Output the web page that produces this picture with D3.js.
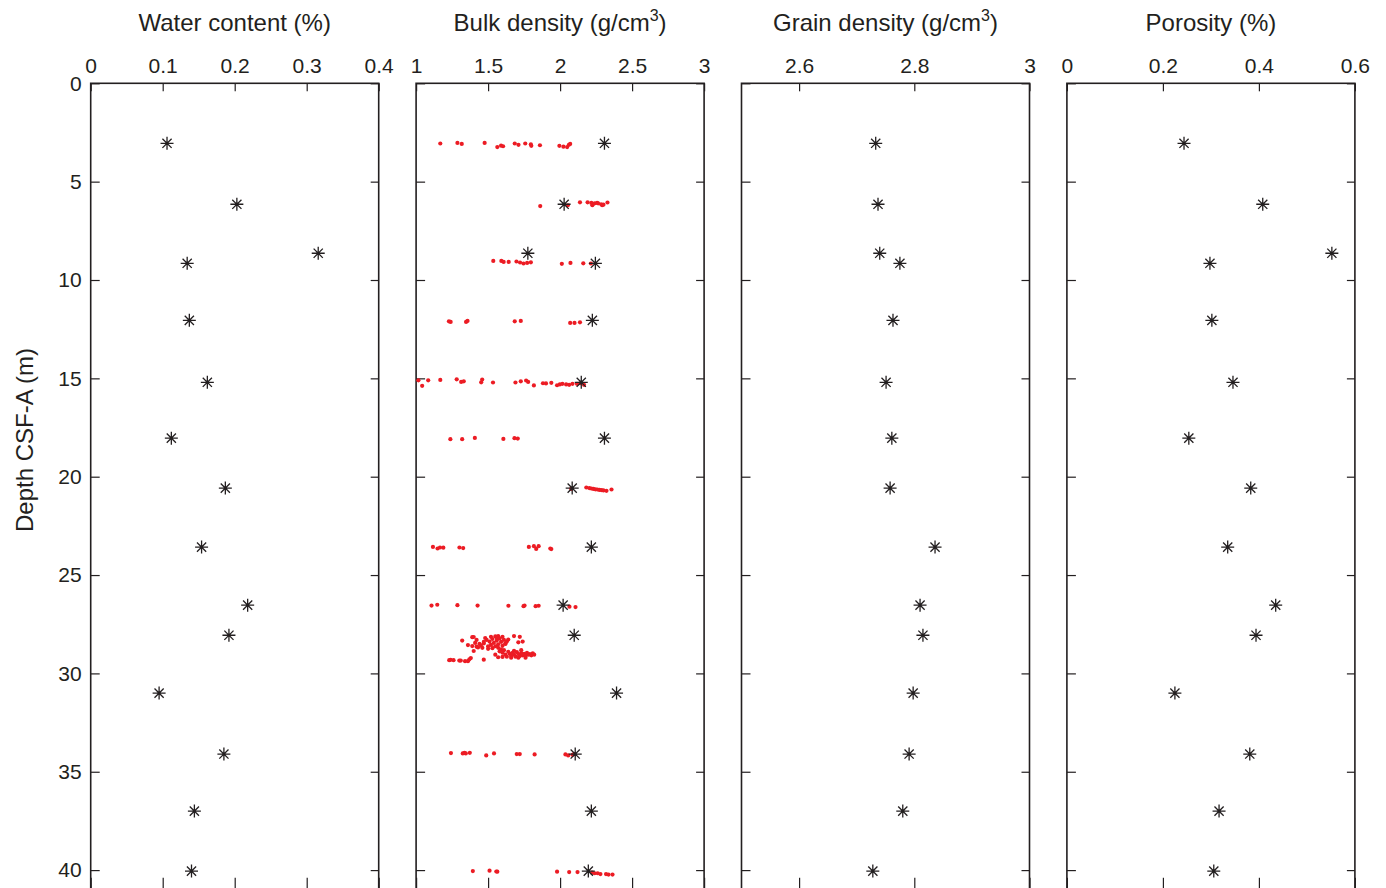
<!DOCTYPE html>
<html>
<head>
<meta charset="utf-8">
<script src="https://cdn.jsdelivr.net/npm/d3@7"></script>
<style>
  html, body { margin: 0; padding: 0; background: #fff; }
  svg { display: block; font-family: "Liberation Sans", Arial, Helvetica, sans-serif; }
</style>
</head>
<body>
<svg id="chart" width="1386" height="888"></svg>
<script>
// ---------------- DATA ----------------
const sampleDepths = [3.05, 6.15, 8.64, 9.15, 12.05, 15.2, 18.04, 20.58, 23.58, 26.53, 28.06, 31.0, 34.1, 37.0, 40.05];
const waterContent = [0.106, 0.203, 0.316, 0.134, 0.137, 0.162, 0.112, 0.187, 0.154, 0.218, 0.192, 0.095, 0.185, 0.144, 0.140];
const bulkDensity  = [2.308, 2.028, 1.776, 2.245, 2.224, 2.147, 2.308, 2.084, 2.217, 2.021, 2.098, 2.392, 2.105, 2.217, 2.196];
const grainDensity = [2.733, 2.737, 2.740, 2.775, 2.763, 2.751, 2.761, 2.758, 2.836, 2.810, 2.815, 2.798, 2.791, 2.780, 2.728];
const porosity     = [0.244, 0.408, 0.552, 0.298, 0.302, 0.346, 0.254, 0.383, 0.335, 0.435, 0.394, 0.225, 0.381, 0.317, 0.306];

// continuous (track) bulk density: [depth, density]
const trackDensity = [
  [3.06,1.168],[3.03,1.287],[3.08,1.317],[3.03,1.476],[3.24,1.564],[3.17,1.590],[3.20,1.604],[3.06,1.685],[3.13,1.711],[3.06,1.758],[3.10,1.797],[3.18,1.800],[3.15,1.860],[3.18,1.995],[3.22,2.023],[3.24,2.049],[3.13,2.061],[3.08,2.070],
  [6.24,1.862],[6.20,2.054],[6.05,2.138],[6.05,2.191],[6.08,2.217],[6.20,2.224],[6.10,2.240],[6.08,2.257],[6.10,2.264],[6.15,2.285],[6.20,2.292],[6.17,2.301],[6.06,2.329],
  [9.03,1.536],[9.03,1.592],[9.08,1.608],[9.08,1.643],[9.06,1.697],[9.11,1.722],[9.16,1.746],[9.13,1.771],[9.10,1.797],[9.18,2.012],[9.13,2.072],[9.15,2.161],[9.16,2.214],
  [12.10,1.228],[12.13,1.240],[12.13,1.347],[12.08,1.357],[12.10,1.685],[12.08,1.727],[12.18,2.070],[12.18,2.100],[12.15,2.138],
  [15.10,1.016],[15.38,1.042],[15.10,1.084],[15.08,1.168],[15.05,1.282],[15.18,1.313],[15.15,1.331],[15.20,1.452],[15.06,1.459],[15.21,1.534],[15.21,1.690],[15.15,1.727],[15.11,1.764],[15.18,1.778],[15.36,1.818],[15.25,1.881],[15.26,1.902],[15.23,1.939],[15.35,1.979],[15.31,1.998],[15.28,2.016],[15.31,2.042],[15.33,2.063],[15.28,2.086],[15.28,2.117],[15.25,2.140],[15.33,2.166],
  [18.09,1.238],[18.09,1.320],[18.03,1.408],[18.08,1.606],[18.04,1.683],[18.06,1.706],
  [20.62,2.077],[20.55,2.182],[20.58,2.203],[20.60,2.217],[20.62,2.231],[20.64,2.245],[20.65,2.259],[20.67,2.273],[20.68,2.287],[20.70,2.301],[20.72,2.322],[20.65,2.357],
  [23.57,1.117],[23.65,1.149],[23.60,1.166],[23.61,1.189],[23.60,1.301],[23.63,1.327],[23.57,1.783],[23.53,1.818],[23.67,1.834],[23.53,1.851],[23.65,1.932],[23.68,1.939],
  [26.55,1.107],[26.51,1.147],[26.53,1.287],[26.55,1.427],[26.56,1.641],[26.58,1.746],[26.55,1.753],[26.58,1.830],[26.56,1.851],[26.61,2.065],[26.63,2.107],
  [28.33,1.32],[28.16,1.39],[28.15,1.40],[28.30,1.42],[28.56,1.36],[28.61,1.39],[28.86,1.40],[28.64,1.42],[28.50,1.44],[28.48,1.47],[28.75,1.50],[28.14,1.52],[28.12,1.55],[28.10,1.57],[28.14,1.60],[28.28,1.64],[28.10,1.68],[28.14,1.72],[28.38,1.74],[28.42,1.71],[28.48,1.62],
  [28.30,1.49],[28.38,1.51],[28.25,1.53],[28.45,1.54],[28.33,1.56],[28.52,1.57],[28.22,1.58],[28.40,1.59],[28.60,1.60],[28.30,1.61],[28.62,1.55],[28.55,1.52],[28.62,1.50],[28.40,1.47],[28.58,1.45],[28.70,1.46],[28.72,1.53],[28.70,1.57],[28.78,1.59],[28.50,1.62],[28.38,1.63],[28.20,1.48],[28.18,1.56],[28.68,1.43],[28.45,1.41],
  [28.88,1.58],[28.95,1.60],[29.05,1.62],[28.90,1.64],[29.00,1.65],[29.10,1.66],[28.95,1.67],[29.05,1.68],[29.15,1.69],[28.92,1.70],[29.02,1.71],[29.12,1.72],[28.98,1.73],[29.08,1.74],[29.00,1.75],[29.10,1.76],[28.96,1.77],[29.05,1.78],[29.02,1.79],[29.08,1.80],[28.98,1.81],[29.05,1.82],[29.15,1.63],[29.20,1.66],[29.20,1.71],[29.20,1.76],[28.82,1.61],[28.85,1.68],[28.82,1.73],[29.05,1.55],[29.18,1.57],[29.16,1.60],
  [29.33,1.23],[29.31,1.24],[29.33,1.26],[29.35,1.30],[29.35,1.31],[29.38,1.34],[29.38,1.36],[29.28,1.37],[29.22,1.38],[29.30,1.47],
  [34.05,1.242],[34.07,1.324],[34.04,1.336],[34.07,1.345],[34.04,1.373],[34.17,1.487],[34.07,1.541],[34.10,1.699],[34.10,1.720],[34.12,1.823],[34.12,2.037],[34.17,2.056],[34.14,2.086],[34.10,2.096],
  [40.05,1.394],[40.03,1.510],[40.07,1.557],[40.08,1.564],[40.08,1.979],[40.10,2.063],[40.10,2.121],[40.13,2.222],[40.16,2.240],[40.16,2.261],[40.20,2.280],[40.20,2.319],[40.23,2.336],[40.23,2.364]
];

const panelTitles = ["Water content (%)", "Bulk density (g/cm", "Grain density (g/cm", "Porosity (%)"];
const panelSup    = [null, "3", "3", null];
const panelDomains = [[0, 0.4], [1, 3], [2.5, 3], [0, 0.6]];
const panelTicks = [[0, 0.1, 0.2, 0.3, 0.4], [1, 1.5, 2, 2.5, 3], [2.6, 2.8, 3], [0, 0.2, 0.4, 0.6]];
const depthTicks = [0, 5, 10, 15, 20, 25, 30, 35, 40];
const depthDomain = [0, 41];
const yLabel = "Depth CSF-A (m)";

// ---------------- LAYOUT ----------------
const ink = "#231f20";
const red = "#ec1c24";
const panelLeft0 = 90.7, panelStep = 325.4, panelW = 288;
const plotTop = 83.3;
const y = d3.scaleLinear().domain(depthDomain).range([plotTop, plotTop + 41 * 19.67]);
const svg = d3.select("#chart");

function asteriskPath(r) {
  const d = r * Math.SQRT1_2;
  return `M0,${-r}L0,${r}M${-r},0L${r},0M${-d},${-d}L${d},${d}M${-d},${d}L${d},${-d}`;
}

const seriesList = [waterContent, bulkDensity, grainDensity, porosity];

panelTitles.forEach((title, i) => {
  const x0 = panelLeft0 + i * panelStep;
  const x = d3.scaleLinear().domain(panelDomains[i]).range([x0, x0 + panelW]);
  const g = svg.append("g");

  // title
  const t = g.append("text")
    .attr("x", x0 + panelW / 2).attr("y", 31)
    .attr("text-anchor", "middle")
    .attr("font-size", 24).attr("fill", ink)
    .text(title);
  if (panelSup[i]) {
    t.append("tspan").attr("dy", -10).attr("font-size", 16).text(panelSup[i]);
    t.append("tspan").attr("dy", 10).text(")");
  }

  // top axis with labels (ticks inward)
  const topAxis = d3.axisTop(x).tickValues(panelTicks[i]).tickFormat(d3.format("~g"))
    .tickSizeInner(-8).tickSizeOuter(0).tickPadding(10);
  const ta = g.append("g").attr("transform", `translate(0,${plotTop})`).call(topAxis);
  ta.select(".domain").remove();
  ta.selectAll("line").attr("stroke", ink).attr("stroke-width", 1.2);
  ta.selectAll("text").attr("font-size", 21).attr("fill", ink).attr("font-family", "Liberation Sans, Arial, sans-serif");

  // bottom axis ticks (inward)
  const bottomAxis = d3.axisBottom(x).tickValues(panelTicks[i]).tickFormat("")
    .tickSizeInner(-12).tickSizeOuter(0);
  const ba = g.append("g").attr("transform", `translate(0,${y(depthDomain[1])})`).call(bottomAxis);
  ba.select(".domain").remove();
  ba.selectAll("line").attr("stroke", ink).attr("stroke-width", 1.2);

  // left axis (ticks inward)
  const leftAxis = d3.axisLeft(y).tickValues(depthTicks)
    .tickFormat(i === 0 ? d3.format("d") : "")
    .tickSizeInner(-9).tickSizeOuter(0).tickPadding(9);
  const la = g.append("g").attr("transform", `translate(${x0},0)`).call(leftAxis);
  la.select(".domain").remove();
  la.selectAll("line").attr("stroke", ink).attr("stroke-width", 1.2);
  la.selectAll("text").attr("font-size", 21).attr("fill", ink).attr("font-family", "Liberation Sans, Arial, sans-serif");

  // right axis (ticks inward)
  const rightAxis = d3.axisRight(y).tickValues(depthTicks).tickFormat("")
    .tickSizeInner(-8).tickSizeOuter(0);
  const ra = g.append("g").attr("transform", `translate(${x0 + panelW},0)`).call(rightAxis);
  ra.select(".domain").remove();
  ra.selectAll("line").attr("stroke", ink).attr("stroke-width", 1.2);

  // frame
  g.append("rect")
    .attr("x", x0).attr("y", plotTop)
    .attr("width", panelW).attr("height", y(depthDomain[1]) - plotTop)
    .attr("fill", "none").attr("stroke", ink).attr("stroke-width", 1.6);

  // red track points (bulk density only)
  if (i === 1) {
    g.append("g").selectAll("circle").data(trackDensity).join("circle")
      .attr("cx", d => x(d[1])).attr("cy", d => y(d[0]))
      .attr("r", 2.1).attr("fill", red);
  }

  // discrete asterisks
  const vals = seriesList[i];
  g.append("g").selectAll("path").data(sampleDepths.map((dep, k) => [dep, vals[k]])).join("path")
    .attr("transform", d => `translate(${x(d[1])},${y(d[0])})`)
    .attr("d", asteriskPath(6.5))
    .attr("fill", "none").attr("stroke", ink).attr("stroke-width", 1.3);
});

// y axis label
svg.append("text")
  .attr("transform", "translate(33,440) rotate(-90)")
  .attr("text-anchor", "middle")
  .attr("font-size", 24).attr("fill", ink)
  .text(yLabel);
</script>
</body>
</html>
